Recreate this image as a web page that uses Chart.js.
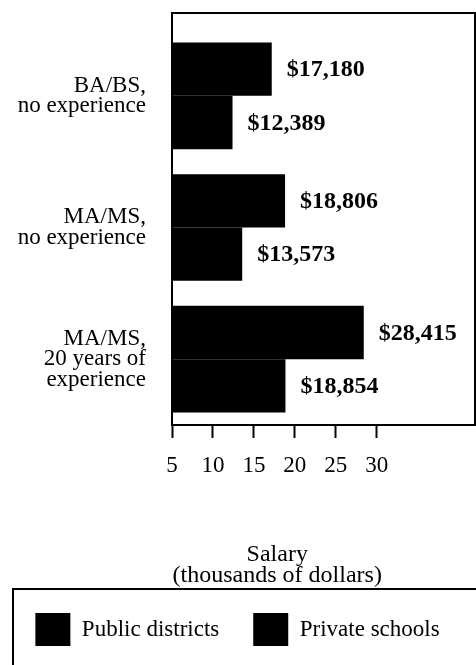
<!DOCTYPE html>
<html>
<head>
<meta charset="utf-8">
<title>Teacher salaries</title>
<script src="https://cdn.jsdelivr.net/npm/chart.js@4.4.0/dist/chart.umd.min.js"></script>
<style>
    html, body { margin: 0; padding: 0; background: #fff; }
    #wrap { width: 476px; height: 665px; }
</style>
</head>
<body>
<div id="wrap"><canvas id="salaryChart" width="476" height="665"></canvas></div>
<script>
// data (thousands of dollars)
const categories = [
    ['BA/BS,', 'no experience'],
    ['MA/MS,', 'no experience'],
    ['MA/MS,', '20 years of', 'experience']
];
const seriesNames = ['Public districts', 'Private schools'];
const publicDistricts = [17.180, 18.806, 28.415];
const privateSchools = [12.389, 13.573, 18.854];
const xTicks = [5, 10, 15, 20, 25, 30];
const axisTitle = ['Salary', '(thousands of dollars)'];

const SERIF = '"Liberation Serif", "DejaVu Serif", serif';
const INK = '#000';
const TICK_FONT = { family: SERIF, size: 23 };

function formatSalary(v) {
    return '$' + Math.round(v * 1000).toLocaleString('en-US');
}

// tick labels must not eat into the plot height / width
function noLabelOverhang(scale) {
    scale.paddingTop = 0;
    scale.paddingBottom = 0;
    scale.paddingLeft = 0;
    scale.paddingRight = 0;
}

// box around the plot; the top rule sits a little above the first bar group
const plotFrame = {
    id: 'plotFrame',
    afterDraw(chart) {
        const { ctx, chartArea: a } = chart;
        const top = a.top - 17;
        ctx.save();
        ctx.strokeStyle = INK;
        ctx.lineWidth = 2;
        ctx.strokeRect(a.left, top, a.right - a.left, a.bottom - top);
        ctx.restore();
    }
};

// dollar amounts at the end of each bar
const valueLabels = {
    id: 'valueLabels',
    afterDatasetsDraw(chart) {
        const { ctx } = chart;
        ctx.save();
        ctx.fillStyle = INK;
        ctx.font = 'bold 24px ' + SERIF;
        ctx.textAlign = 'left';
        ctx.textBaseline = 'middle';
        chart.data.datasets.forEach((ds, i) => {
            chart.getDatasetMeta(i).data.forEach((bar, j) => {
                ctx.fillText(formatSalary(ds.data[j]), bar.x + 15, bar.y + 1);
            });
        });
        ctx.restore();
    }
};

// axis title centred under the labelled part of the axis (5..30), not the whole plot
const axisTitlePlugin = {
    id: 'axisTitlePlugin',
    afterDraw(chart) {
        const { ctx } = chart;
        const xs = chart.scales.x;
        ctx.save();
        ctx.font = TICK_FONT.size + 'px ' + SERIF;
        const first = String(xTicks[0]);
        const last = String(xTicks[xTicks.length - 1]);
        const left = xs.getPixelForValue(xTicks[0]) - ctx.measureText(first).width / 2;
        const right = xs.getPixelForValue(xTicks[xTicks.length - 1]) + ctx.measureText(last).width / 2;
        const cx = (left + right) / 2;
        ctx.font = '24px ' + SERIF;
        ctx.fillStyle = INK;
        ctx.textAlign = 'center';
        ctx.textBaseline = 'middle';
        const lineH = 21;
        axisTitle.forEach((line, i) => {
            ctx.fillText(line, cx, xs.bottom - 24 + i * lineH);
        });
        ctx.restore();
    }
};

// frame drawn round the legend, running off the bottom/right of the page
const legendFrame = {
    id: 'legendFrame',
    afterDraw(chart) {
        const boxes = chart.legend && chart.legend.legendHitBoxes;
        if (!boxes || !boxes.length) return;
        const { ctx } = chart;
        const top = boxes[0].top - 24;
        ctx.save();
        ctx.strokeStyle = INK;
        ctx.lineWidth = 2;
        ctx.strokeRect(13, top, chart.width, chart.height);
        ctx.restore();
    }
};

const ctx = document.getElementById('salaryChart');

new Chart(ctx, {
    type: 'bar',
    data: {
        labels: categories,
        datasets: [
            { label: seriesNames[0], data: publicDistricts, backgroundColor: INK },
            { label: seriesNames[1], data: privateSchools, backgroundColor: INK }
        ]
    },
    options: {
        indexAxis: 'y',
        responsive: false,
        animation: false,
        events: [],
        barPercentage: 1,
        categoryPercentage: 0.81,
        layout: { padding: { top: 30, right: 1, bottom: 9, left: 0 } },
        scales: {
            x: {
                type: 'linear',
                position: 'bottom',
                min: 5,
                max: 42,
                afterBuildTicks: scale => {
                    scale.ticks = xTicks.map(v => ({ value: v }));
                },
                afterFit: scale => {
                    scale.height = 154;
                    noLabelOverhang(scale);
                },
                grid: {
                    drawOnChartArea: false,
                    drawTicks: true,
                    tickLength: 13,
                    tickWidth: 2,
                    tickColor: INK
                },
                border: { color: INK, width: 2 },
                ticks: {
                    color: INK,
                    padding: 14,
                    maxRotation: 0,
                    font: TICK_FONT
                },
                title: { display: false }
            },
            y: {
                type: 'category',
                afterFit: scale => {
                    scale.width = 172;
                    noLabelOverhang(scale);
                },
                grid: { drawOnChartArea: false, drawTicks: false },
                border: { color: INK, width: 2 },
                ticks: {
                    color: INK,
                    padding: 26,
                    font: { family: SERIF, size: 23, lineHeight: 0.9 }
                }
            }
        },
        plugins: {
            legend: {
                position: 'bottom',
                labels: {
                    boxWidth: 35,
                    boxHeight: 33,
                    padding: 34,
                    color: INK,
                    font: { family: SERIF, size: 23 }
                }
            },
            tooltip: { enabled: false }
        }
    },
    plugins: [plotFrame, valueLabels, axisTitlePlugin, legendFrame]
});
</script>
</body>
</html>
